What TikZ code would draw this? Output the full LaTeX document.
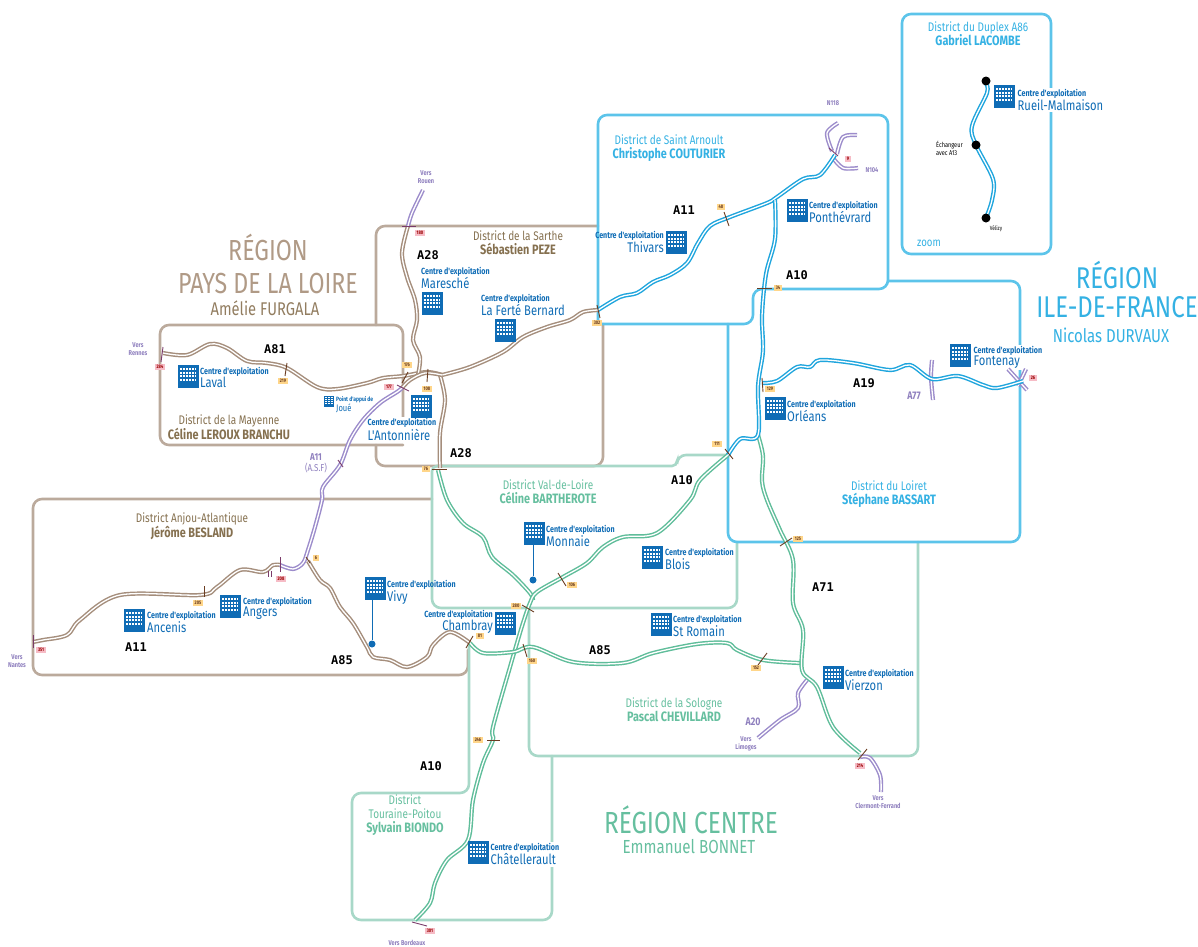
\documentclass[tikz,border=0pt]{standalone}
\usepackage{fontspec}
\setmainfont{Fira Sans}
\newfontfamily\cf{Fira Sans}[FakeStretch=0.8]
\newfontfamily\rf{DejaVu Sans Mono}
\definecolor{brb}{HTML}{BBAA9C}
\definecolor{brr}{HTML}{A58E7C}
\definecolor{brt}{HTML}{B09A86}
\definecolor{brd}{HTML}{85704F}
\definecolor{grb}{HTML}{A8D8C8}
\definecolor{grr}{HTML}{5FBD9A}
\definecolor{grt}{HTML}{66BF9F}
\definecolor{blb}{HTML}{5CC4EA}
\definecolor{blr}{HTML}{1FA5DD}
\definecolor{blt}{HTML}{34B1E3}
\definecolor{pur}{HTML}{9C8CCB}
\definecolor{purt}{HTML}{8F80BE}
\definecolor{bld}{HTML}{0F6CB5}
\definecolor{tko}{HTML}{6B3D22}
\definecolor{tkp}{HTML}{7A3B6A}
\definecolor{ork}{HTML}{FFD68A}
\definecolor{pnk}{HTML}{F6BCC6}
\tikzset{
 x=1pt,y=-1pt,
 bx/.style={draw=#1,line width=2.6pt,rounded corners=9pt,line cap=round},
 road/.style={draw=#1,double=white,line width=1.45pt,double distance=1.3pt,line join=round},
 tick/.style={draw=tko,line width=.9pt},
 tickp/.style={draw=tkp,line width=.9pt},
 kmo/.style={fill=ork,text=tko,font=\cf\bfseries\fontsize{5}{5.5}\selectfont,inner xsep=2pt,inner ysep=1pt},
 kmp/.style={fill=pnk,text=red!60!black,font=\cf\bfseries\fontsize{5}{5.5}\selectfont,inner xsep=2pt,inner ysep=1pt},
 rlab/.style={font=\rf\bfseries\fontsize{12}{13}\selectfont,text=black},
 plab/.style={font=\cf\bfseries\fontsize{7}{8.5}\selectfont,text=purt,align=center,inner sep=0pt},
 lab/.style={font=\cf\bfseries,text=bld,align=left,anchor=north west,inner sep=0pt},
 labr/.style={font=\cf\bfseries,text=bld,align=right,anchor=north east,inner sep=0pt},
 white fill/.style={fill=white,inner sep=1.5pt},
 dist/.style={font=\cf\fontsize{12.5}{14}\selectfont,align=center,inner sep=0pt,text=#1},
 pin/.style={draw=bld,line width=.9pt},
 dotb/.style={fill=bld,circle,inner sep=0pt,minimum size=7pt},
 dotk/.style={fill=black,circle,inner sep=0pt,minimum size=9pt},
 pics/bldg/.style={code={
   \fill[bld] (0,0) rectangle (21,23);
   \foreach \i in {0,...,5}{\foreach \j in {0,...,3}{
     \fill[white] (2.2+\i*2.9,3+\j*3.7) rectangle ++(1.7,1.9);}}
 }},
}
\newcommand\cnt[1]{{\fontsize{8.9}{11.5}\selectfont Centre d'exploitation}\\{\fontsize{14}{11.5}\selectfont\mdseries #1}}
\newcommand\bb[1]{{\fontsize{13.6}{14}\selectfont\bfseries #1}}
\newcommand\rd[2]{\draw[road=#1] plot[smooth,tension=.55] coordinates {#2};}
\begin{document}
\begin{tikzpicture}
\useasboundingbox (0,0) rectangle (1198,946);
% district boxes
\draw[bx=brb] (403,418)--(403,325)--(160,325)--(160,445)--(403,445);
\draw[bx=brb] (376,325)--(376,226)--(598,226);
\draw[bx=brb] (603,324)--(603,466)--(376,466)--(376,445);
\draw[bx=brb] (432,499)--(33,499)--(33,675)--(468,675)--(468,650);
\draw[bx=grb] (728,455)--(677,455)[rounded corners=5pt]--(677,466)--(432,466)[rounded corners=9pt]--(432,608)--(737,608)--(737,542);
\draw[bx=grb] (529,608)--(529,756)--(918,756)--(918,542);
\draw[bx=grb] (469,645)--(469,793)--(352,793)--(352,920)--(552,920)--(552,756);
\draw[bx=blb] (728,324)--(728,542)--(1020,542)--(1020,281)--(888,281);
\draw[bx=blb] (598,324)--(598,115)--(888,115)--(888,289)--(753,289)--(753,324)--(598,324);
\draw[bx=blb] (902,14) rectangle (1051,254);
% building labels
\node[lab] (tLaval) at (200,367) {\cnt{Laval}};
\node[lab,font=\cf\bfseries\fontsize{6.2}{10.5}\selectfont] (tJoue) at (336,396) {Point d'appui de\\{\fontsize{9.5}{10.5}\selectfont\mdseries Joué}};
\node[lab,white fill,anchor=north west] (tAnt) at (366,417) {\cnt{L'Antonnière}};
\node[lab] (tMar) at (421,267) {\cnt{Maresché}};
\node[lab] (tFer) at (481,294) {\cnt{La Ferté Bernard}};
\node[labr] (tThi) at (664,231) {\cnt{Thivars}};
\node[lab] (tPon) at (809,201) {\cnt{Ponthévrard}};
\node[lab,white fill,anchor=north west] (tRue) at (1016,88) {\cnt{Rueil-Malmaison}};
\node[lab] (tOrl) at (787,400) {\cnt{Orléans}};
\node[lab,white fill,anchor=north west] (tFon) at (972,345) {\cnt{Fontenay}};
\node[lab] (tMon) at (546,525) {\cnt{Monnaie}};
\node[lab] (tBlo) at (665,548) {\cnt{Blois}};
\node[lab] (tViv) at (387,580) {\cnt{Vivy}};
\node[lab] (tAnc) at (147,611) {\cnt{Ancenis}};
\node[lab] (tAng) at (243,597) {\cnt{Angers}};
\node[labr] (tCha) at (493,610) {\cnt{Chambray}};
\node[lab] (tRom) at (673,615) {\cnt{St Romain}};
\node[lab] (tVie) at (845,669) {\cnt{Vierzon}};
\node[lab,white fill,anchor=north west] (tChl) at (489,842) {\cnt{Châtellerault}};
% roads
\rd{brr}{(163,353)(187,355)(210,344)(227,348)(247,361)(267,363)(287,368)(317,387)(337,389)(367,383)(383,378)(403,376)(427,372)(442,375)}
\rd{brr}{(442,375)(470,367)(503,352)(523,337)(547,327)(570,320)(583,312)(598,310)}
\rd{brr}{(408,226)(402,253)(407,277)(415,300)(417,320)(413,340)(420,357)(418,375)}
\rd{brr}{(440,375)(445,400)(440,433)(440,468)}
\rd{brr}{(33,642)(43,640)(67,635)(80,620)(120,595)(200,595)(217,587)(240,570)(263,572)(273,565)(280,565)}
\rd{brr}{(308,561)(320,580)(330,588)(340,607)(353,623)(367,647)(373,657)(390,660)(407,667)(427,657)(433,645)(450,632)(470,643)}
\rd{brr}{(402,388)(410,380)(425,373)(442,375)}
\rd{pur}{(423,190)(412,213)(408,226)}
\rd{pur}{(280,565)(293,569)(303,563)(308,550)(315,527)(322,500)(323,487)(340,465)(350,440)(363,420)(380,403)(397,392)(402,388)}
\rd{pur}{(932,360)(931,377)(933,400)}
\rd{pur}{(807,680)(798,693)(798,708)(780,720)(758,738)}
\rd{pur}{(860,757)(870,758)(880,775)(881,792)}
\rd{pur}{(832,151)(827,133)(838,123)}
\rd{pur}{(837,154)(843,137)(857,135)}
\rd{pur}{(833,158)(843,168)(858,168)}
\rd{pur}{(1008,369)(1027,390)}
\rd{pur}{(1026,369)(1018,386)}
\rd{grr}{(438,470)(447,500)(463,523)(483,537)(492,557)(513,575)(530,593)(533,600)}
\rd{grr}{(728,455)(700,480)(690,500)(657,533)(623,537)(603,547)(587,563)(563,577)(537,592)(530,603)(523,623)(517,643)(510,667)(493,727)(493,740)(483,763)(473,800)(468,840)(447,860)(435,883)(430,903)(415,920)}
\rd{grr}{(470,643)(483,653)(513,652)(533,647)(573,662)(623,663)(653,653)(697,644)(727,643)(737,650)(763,660)(800,663)}
\rd{grr}{(758,435)(763,456)(762,481)(767,500)(780,530)(793,560)(793,603)(803,630)(802,670)(817,687)(833,727)(860,753)}
\rd{blr}{(598,310)(620,297)(637,293)(653,282)(670,275)(687,263)(698,243)(710,226)(730,217)(767,203)(777,197)(803,179)(820,175)(835,155)}
\rd{blr}{(775,200)(775,239)(766,274)(762,316)(763,351)(758,386)(758,435)(740,439)(728,455)}
\rd{blr}{(762,383)(777,381)(797,367)(810,367)(820,360)(853,363)(890,370)(910,365)(932,379)(958,376)(983,385)(997,388)(1023,381)}
\rd{blr}{(986,84)(987,93)(972,126)(976,145)(993,179)(992,200)(986,218)}
% buildings
\pic (bLaval) at (178,365) {bldg};
\pic (bAnt) at (411,395) {bldg};
\pic (bMar) at (422,292) {bldg};
\pic (bFer) at (495,319) {bldg};
\pic (bThi) at (666,231) {bldg};
\pic (bPon) at (787,199) {bldg};
\pic (bRue) at (994,85) {bldg};
\pic (bOrl) at (765,397) {bldg};
\pic (bFon) at (950,344) {bldg};
\pic (bMon) at (524,522) {bldg};
\pic (bBlo) at (642,546) {bldg};
\pic (bViv) at (365,577) {bldg};
\pic (bAnc) at (124,609) {bldg};
\pic (bAng) at (220,595) {bldg};
\pic (bCha) at (495,612) {bldg};
\pic (bRom) at (651,613) {bldg};
\pic (bVie) at (823,666) {bldg};
\pic (bChl) at (468,841) {bldg};
\pic[scale=.48] (bJoue) at (324,396) {bldg};
% pins
\node[dotb] (dViv) at (372,644) {};
\coordinate (cViv) at (372,600);
\draw[pin] (cViv)--(dViv);
\node[dotb] (dMon) at (533,580) {};
\coordinate (cMon) at (533,545);
\draw[pin] (cMon)--(dMon);
\node[dotk] (d1) at (986,81) {};
\node[dotk] (d2) at (976,145) {};
\node[dotk] (d3) at (986,218) {};
% ticks and km marks
\draw[tickp] (163,347)--(161,362);
\node[kmp] (k284) at (160,367) {284};
\draw[tick] (287,363)--(285,376);
\node[kmo] (k219) at (283,381) {219};
\draw[tick] (408,372)--(402,383);
\node[kmo] (k176) at (407,365) {176};
\draw[tickp] (397,385)--(409,391);
\node[kmp] (k177) at (389,387) {177};
\draw[tick] (428,369)--(427,382);
\node[kmo] (k108) at (427,389) {108};
\draw[tickp] (402,226)--(416,226);
\node[kmp] (k180) at (420,233) {180};
\draw[tick] (432,469)--(447,469);
\node[kmo] (k76) at (426,469) {76};
\draw[tick] (597,305)--(600,318);
\node[kmo] (k302) at (597,323) {302};
\draw[tick] (724,212)--(729,226);
\node[kmo] (k48) at (721,207) {48};
\draw[tick] (757,288)--(772,288);
\node[kmo] (k34) at (778,288) {34};
\draw[tick] (762,378)--(763,392);
\node[kmo] (k129) at (770,389) {129};
\draw[tick] (725,449)--(733,459);
\node[kmo] (k111) at (717,444) {111};
\draw[tick] (780,546)--(792,538);
\node[kmo] (k125) at (798,539) {125};
\draw[tick] (558,573)--(566,586);
\node[kmo] (k106) at (572,585) {106};
\draw[tick] (522,605)--(534,612);
\node[kmo] (k280) at (516,606) {280};
\draw[tick] (466,648)--(473,636);
\node[kmo] (k81) at (480,636) {81};
\draw[tick] (523,644)--(527,657);
\node[kmo] (k160) at (532,661) {160};
\draw[tick] (767,653)--(758,665);
\node[kmo] (k152) at (756,668) {152};
\draw[tick] (487,740)--(500,740);
\node[kmo] (k246) at (478,740) {246};
\draw[tick] (867,749)--(858,760);
\node[kmp] (k214) at (860,766) {214};
\draw[tickp] (412,922)--(427,926);
\node[kmp] (k301) at (430,931) {301};
\draw[tick] (204,586)--(204,597);
\node[kmo] (k205) at (198,603) {205};
\draw[tickp] (280,557)--(280,572);
\node[kmp] (k208) at (281,579) {208};
\draw[tickp] (268,571)--(268,577);
\draw[tickp] (271,571)--(271,577);
\draw[tick] (306,557)--(310,563);
\node[kmo] (k6) at (316,558) {6};
\draw[tickp] (33,635)--(33,648);
\node[kmp] (k351) at (41,650) {351};
\draw[tickp] (338,460)--(343,467);
\draw[tickp] (829,148)--(838,156);
\node[kmp] (k9) at (848,159) {9};
\node[kmp] (k26) at (1033,378) {26};
% road labels
\node[rlab] (r1) at (275,349) {A81};
\node[rlab] (r2) at (136,647) {A11};
\node[rlab] (r3) at (342,660) {A85};
\node[rlab] (r4) at (428,255) {A28};
\node[rlab] (r5) at (461,453) {A28};
\node[rlab] (r6) at (684,210) {A11};
\node[rlab] (r7) at (797,275) {A10};
\node[rlab] (r8) at (864,383) {A19};
\node[rlab] (r9) at (682,480) {A10};
\node[rlab] (r10) at (431,766) {A10};
\node[rlab] (r11) at (823,587) {A71};
\node[rlab] (r12) at (600,650) {A85};
\node[plab,font=\cf\bfseries\fontsize{11}{12}\selectfont] (r13) at (753,722) {A20};
\node[plab,font=\cf\bfseries\fontsize{11}{12}\selectfont] (r14) at (914,396) {A77};
\node[plab,font=\cf\fontsize{10}{11.5}\selectfont] (r15) at (316,463) {\textbf{A11}\\(A.S.F)};
\node[plab] (v1) at (138,349) {Vers\\Rennes};
\node[plab] (v2) at (17,661) {Vers\\Nantes};
\node[plab] (v3) at (426,177) {Vers\\Rouen};
\node[plab] (v4) at (746,744) {Vers\\Limoges};
\node[plab] (v5) at (878,802) {Vers\\Clermont-Ferrand};
\node[plab] (v6) at (407,943) {Vers Bordeaux};
\node[plab] (v7) at (833,103) {N118};
\node[plab] (v8) at (872,170) {N104};
\node[font=\cf\fontsize{7}{8}\selectfont,align=left,anchor=north west,inner sep=0pt] (e1) at (936,141) {Échangeur\\avec A13};
\node[font=\cf\fontsize{6}{7}\selectfont,inner sep=0pt] (e2) at (996,229) {Vélizy};
\node[font=\cf\fontsize{12}{13}\selectfont,text=blt,inner sep=0pt] (z) at (929,243) {zoom};
% districts
\node[dist=blt] (D1) at (669,148) {District de Saint Arnoult\\\bb{Christophe COUTURIER}};
\node[dist=blt] (D2) at (978,34) {District du Duplex A86\\\bb{Gabriel LACOMBE}};
\node[dist=blt] (D3) at (889,494) {District du Loiret\\\bb{Stéphane BASSART}};
\node[dist=brd] (D4) at (518,243) {District de la Sarthe\\\bb{Sébastien PEZE}};
\node[dist=brd] (D5) at (229,427) {District de la Mayenne\\\bb{Céline LEROUX BRANCHU}};
\node[dist=brd] (D6) at (192,526) {District Anjou-Atlantique\\\bb{Jérôme BESLAND}};
\node[dist=grt] (D7) at (548,492) {District Val-de-Loire\\\bb{Céline BARTHEROTE}};
\node[dist=grt] (D8) at (674,710) {District de la Sologne\\\bb{Pascal CHEVILLARD}};
\node[dist=grt] (D9) at (405,815) {District\\Touraine-Poitou\\\bb{Sylvain BIONDO}};
% regions
\node[font=\cf\fontsize{29}{33}\selectfont,text=brt,align=center,inner sep=0pt] (R1) at (268,264) {RÉGION\\PAYS DE LA LOIRE};
\node[font=\cf\fontsize{18.4}{20}\selectfont,text=brd!70!brt,inner sep=0pt] (R1b) at (265,308) {Amélie FURGALA};
\node[font=\cf\fontsize{30}{29}\selectfont,text=blt,align=center,inner sep=0pt] (R2) at (1117,290) {RÉGION\\ILE-DE-FRANCE};
\node[font=\cf\fontsize{18.7}{20}\selectfont,text=blt,inner sep=0pt] (R2b) at (1111,335) {Nicolas DURVAUX};
\node[font=\cf\fontsize{30.5}{30}\selectfont,text=grt,inner sep=0pt] (R3) at (691,820) {RÉGION CENTRE};
\node[font=\cf\fontsize{18.9}{18}\selectfont,text=grt,inner sep=0pt] (R3b) at (689,847) {Emmanuel BONNET};
\end{tikzpicture}
\end{document}
